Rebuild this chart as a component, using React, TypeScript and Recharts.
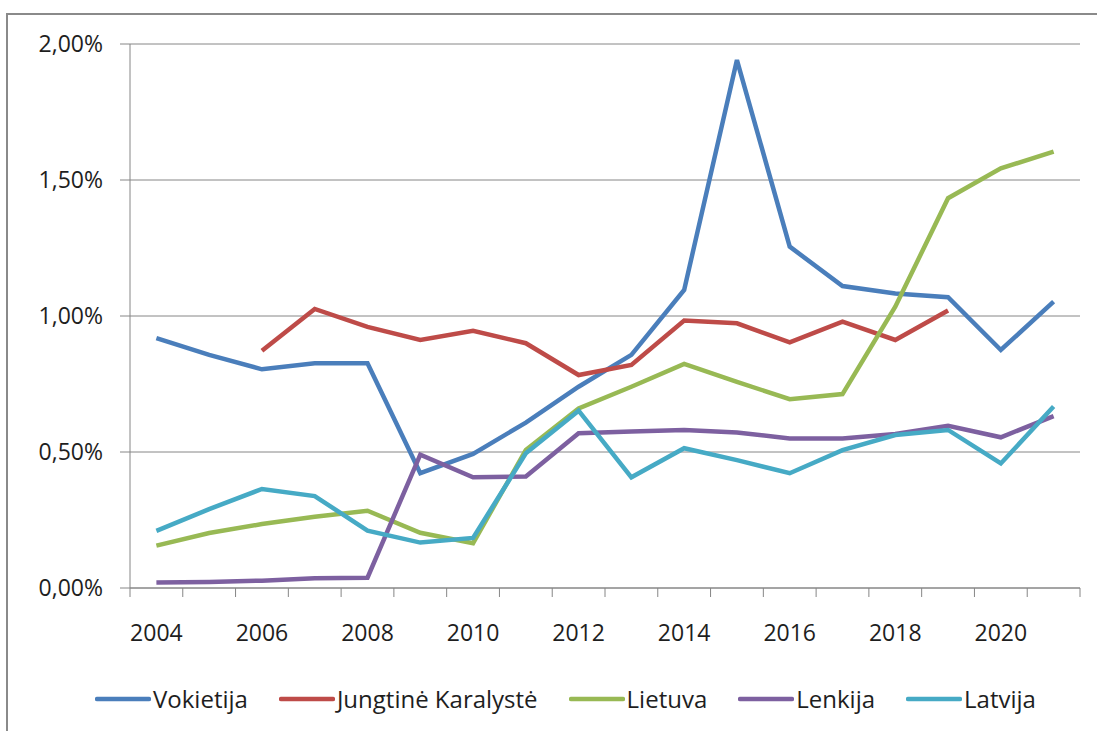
import React from 'react';
import { LineChart, Line, XAxis, YAxis, CartesianGrid, Legend } from 'recharts';

const years = ['2004', '2005', '2006', '2007', '2008', '2009', '2010', '2011', '2012', '2013', '2014', '2015', '2016', '2017', '2018', '2019', '2020', '2021'];

const vokietija = [0.919, 0.857, 0.804, 0.826, 0.826, 0.422, 0.493, 0.608, 0.74, 0.857, 1.096, 1.941, 1.255, 1.11, 1.083, 1.069, 0.875, 1.053];
const jungtineKaralyste = [null, null, 0.872, 1.026, 0.96, 0.912, 0.946, 0.9, 0.783, 0.82, 0.983, 0.973, 0.903, 0.979, 0.912, 1.02, null, null];
const lietuva = [0.156, 0.202, 0.235, 0.262, 0.284, 0.203, 0.165, 0.507, 0.66, 0.74, 0.824, 0.758, 0.694, 0.713, 1.034, 1.433, 1.543, 1.604];
const lenkija = [0.02, 0.022, 0.027, 0.036, 0.038, 0.49, 0.407, 0.41, 0.569, 0.575, 0.581, 0.572, 0.55, 0.55, 0.566, 0.596, 0.554, 0.632];
const latvija = [0.21, 0.29, 0.364, 0.338, 0.211, 0.167, 0.184, 0.495, 0.652, 0.407, 0.514, 0.47, 0.422, 0.507, 0.5625, 0.581, 0.458, 0.667];

const yTicks = [0, 0.5, 1, 1.5, 2];

const seriesNames = ['Vokietija', 'Jungtinė Karalystė', 'Lietuva', 'Lenkija', 'Latvija'];
const seriesColors = ['#4A7EBB', '#BE4B48', '#98B954', '#7D60A0', '#46AAC5'];
const seriesValues = [vokietija, jungtineKaralyste, lietuva, lenkija, latvija];

const data = years.map((year, i) => {
  const row: Record<string, any> = { year };
  seriesNames.forEach((n, k) => {
    row['s' + k] = seriesValues[k][i];
  });
  return row;
});

const W = 1097;
const H = 731;
const PLOT_LEFT = 130;
const PLOT_RIGHT = 1080;
const PLOT_TOP = 44;
const PLOT_BOTTOM = 588;
const STEP = (PLOT_RIGHT - PLOT_LEFT) / years.length;
const GRID = '#868686';
const FONT = '"Open Sans", "Liberation Sans", sans-serif';
const TEXT = '#1e1e1e';

const XTick = (props: any) => {
  const { x, y, payload, index } = props;
  const half = STEP / 2;
  const marks = [x - half];
  if (index === years.length - 1) marks.push(x + half);
  return (
    <g>
      {marks.map((mx) => (
        <line key={mx} x1={mx} x2={mx} y1={y} y2={y + 9} stroke={GRID} strokeWidth={1} />
      ))}
      {index % 2 === 0 && (
        <text x={x} y={y + 53} textAnchor="middle" fontFamily={FONT} fontSize={23} fill={TEXT}>
          {payload.value}
        </text>
      )}
    </g>
  );
};

const LegendContent = (props: any) => {
  const payload = [...(props.payload || [])].sort(
    (a: any, b: any) => seriesNames.indexOf(a.value) - seriesNames.indexOf(b.value)
  );
  return (
    <div style={{ display: 'flex', alignItems: 'center', gap: 31, whiteSpace: 'nowrap' }}>
      {payload.map((p: any) => (
        <div key={p.value} style={{ display: 'flex', alignItems: 'center' }}>
          <svg width={56} height={10} style={{ display: 'block' }}>
            <line x1={2} x2={54} y1={5} y2={5} stroke={p.color} strokeWidth={4.5} strokeLinecap="round" />
          </svg>
          <span style={{ fontFamily: FONT, fontSize: 24, color: TEXT, marginLeft: 2, lineHeight: '30px' }}>{p.value}</span>
        </div>
      ))}
    </div>
  );
};

export default function App() {
  return (
    <div style={{ position: 'absolute', left: 0, top: 0, width: W, height: H, overflow: 'hidden', background: '#fff' }}>
      <div
        style={{
          position: 'absolute',
          left: 6,
          top: 13,
          width: W + 100,
          height: H + 100,
          borderLeft: '2px solid #8a8a8a',
          borderTop: '2px solid #8a8a8a',
        }}
      />
      <div style={{ position: 'absolute', left: 0, top: 0 }}>
        <LineChart
          width={W}
          height={H}
          data={data}
          margin={{ top: PLOT_TOP, right: W - PLOT_RIGHT, bottom: 83, left: 0 }}
        >
          <CartesianGrid horizontal={true} vertical={false} stroke={GRID} strokeWidth={1} />
          <XAxis
            dataKey="year"
            interval={0}
            padding={{ left: STEP / 2, right: STEP / 2 }}
            height={H - PLOT_BOTTOM - 83}
            tickLine={false}
            tickSize={0}
            tickMargin={0}
            axisLine={{ stroke: GRID, strokeWidth: 1 }}
            tick={<XTick />}
          />
          <YAxis
            domain={[0, 2]}
            ticks={yTicks}
            width={PLOT_LEFT}
            tickSize={10}
            tickMargin={17}
            axisLine={{ stroke: GRID, strokeWidth: 1 }}
            tickLine={{ stroke: GRID, strokeWidth: 1 }}
            tick={{ fontFamily: FONT, fontSize: 23, fill: TEXT }}
            tickFormatter={(v: number) => v.toFixed(2).replace('.', ',') + '%'}
            allowDataOverflow={true}
          />
          <Legend
            layout="horizontal"
            verticalAlign="middle"
            align="center"
            itemSorter={null as any}
            content={<LegendContent />}
            wrapperStyle={{ top: 684, left: 95, width: 1000, height: 30 }}
          />
          {seriesNames.map((n, k) => (
            <Line
              key={n}
              type="linear"
              dataKey={'s' + k}
              name={n}
              stroke={seriesColors[k]}
              strokeWidth={4.5}
              dot={false}
              activeDot={false}
              isAnimationActive={false}
              connectNulls={false}
            />
          ))}
        </LineChart>
      </div>
    </div>
  );
}
